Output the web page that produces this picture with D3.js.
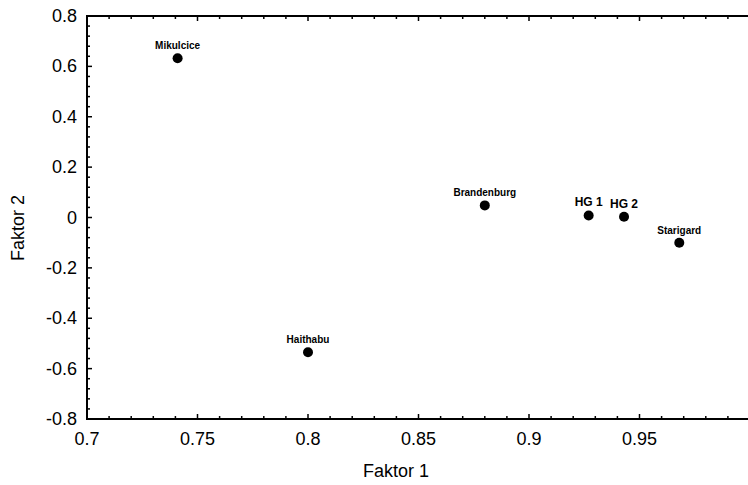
<!DOCTYPE html>
<html>
<head>
<meta charset="utf-8">
<script src="https://cdn.jsdelivr.net/npm/d3@7"></script>
<style>
  body { margin: 0; background: #fff; }
  svg { font-family: "Liberation Sans", Arial, sans-serif; }
</style>
</head>
<body>
<div id="chart"></div>
<script>
// data
var names = ["Mikulcice", "Haithabu", "Brandenburg", "HG 1", "HG 2", "Starigard"];
var faktor1 = [0.741, 0.800, 0.880, 0.927, 0.943, 0.968];
var faktor2 = [0.632, -0.535, 0.048, 0.008, 0.003, -0.100];

var xTicks = [0.7, 0.75, 0.8, 0.85, 0.9, 0.95];
var yTicks = [0.8, 0.6, 0.4, 0.2, 0, -0.2, -0.4, -0.6, -0.8];

var width = 748, height = 485;
var plotLeft = 87, plotRight = 750, plotTop = 16, plotBottom = 419;

var svg = d3.select("#chart")
    .append("svg")
    .attr("width", width)
    .attr("height", height);

var x = d3.scaleLinear().domain([0.7, 1.0]).range([plotLeft, plotRight]);
var y = d3.scaleLinear().domain([-0.8, 0.8]).range([plotBottom, plotTop]);

// minor ticks
var xMinor = d3.range(0, 31).map(function (i) { return 0.7 + i * 0.01; });
var yMinor = d3.range(0, 41).map(function (i) { return -0.8 + i * 0.04; });

var g = svg.append("g");

// frame
g.append("line").attr("x1", plotLeft).attr("x2", plotRight).attr("y1", plotBottom).attr("y2", plotBottom)
    .attr("stroke", "#000").attr("stroke-width", 2);
g.append("line").attr("x1", plotLeft).attr("x2", plotRight).attr("y1", plotTop).attr("y2", plotTop)
    .attr("stroke", "#000").attr("stroke-width", 2);
g.append("line").attr("x1", plotLeft).attr("x2", plotLeft).attr("y1", plotTop - 1).attr("y2", plotBottom + 1)
    .attr("stroke", "#000").attr("stroke-width", 2);
g.append("line").attr("x1", plotRight).attr("x2", plotRight).attr("y1", plotTop).attr("y2", plotBottom)
    .attr("stroke", "#000").attr("stroke-width", 2);

function isMajor(v, list) {
    return list.some(function (t) { return Math.abs(t - v) < 1e-6; });
}

// x ticks bottom and top, pointing inward
xMinor.forEach(function (v) {
    var len = isMajor(v, xTicks) ? 5 : 3;
    g.append("line").attr("x1", x(v)).attr("x2", x(v))
        .attr("y1", plotBottom).attr("y2", plotBottom - len)
        .attr("stroke", "#000").attr("stroke-width", 1.5);
    g.append("line").attr("x1", x(v)).attr("x2", x(v))
        .attr("y1", plotTop).attr("y2", plotTop + len)
        .attr("stroke", "#000").attr("stroke-width", 1.5);
});

// y ticks left, pointing inward
yMinor.forEach(function (v) {
    var len = isMajor(v, yTicks) ? 5 : 3;
    g.append("line").attr("x1", plotLeft).attr("x2", plotLeft + len)
        .attr("y1", y(v)).attr("y2", y(v))
        .attr("stroke", "#000").attr("stroke-width", 1.5);
});

// tick labels
g.selectAll(".xlab").data(xTicks).enter().append("text")
    .attr("x", function (d) { return x(d); })
    .attr("y", 445)
    .attr("text-anchor", "middle")
    .style("font-size", "18px")
    .text(function (d) { return String(d); });

g.selectAll(".ylab").data(yTicks).enter().append("text")
    .attr("x", 77)
    .attr("y", function (d) { return y(d) + 6; })
    .attr("text-anchor", "end")
    .style("font-size", "18px")
    .text(function (d) { return String(d); });

// axis titles
svg.append("text")
    .attr("x", 396)
    .attr("y", 477)
    .attr("text-anchor", "middle")
    .style("font-size", "18px")
    .text("Faktor 1");

svg.append("text")
    .attr("transform", "translate(24,228) rotate(-90)")
    .attr("text-anchor", "middle")
    .style("font-size", "18px")
    .text("Faktor 2");

// points
var pts = svg.selectAll(".pt").data(names).enter().append("g");

pts.append("circle")
    .attr("cx", function (d, i) { return x(faktor1[i]); })
    .attr("cy", function (d, i) { return y(faktor2[i]); })
    .attr("r", 5)
    .attr("fill", "#000");

pts.append("text")
    .attr("x", function (d, i) { return x(faktor1[i]); })
    .attr("y", function (d, i) { return y(faktor2[i]) - 9; })
    .attr("text-anchor", "middle")
    .style("font-size", function (d) { return d.indexOf("HG") == 0 ? "12px" : "10px"; })
    .style("font-weight", "bold")
    .text(function (d) { return d; });
</script>
</body>
</html>
